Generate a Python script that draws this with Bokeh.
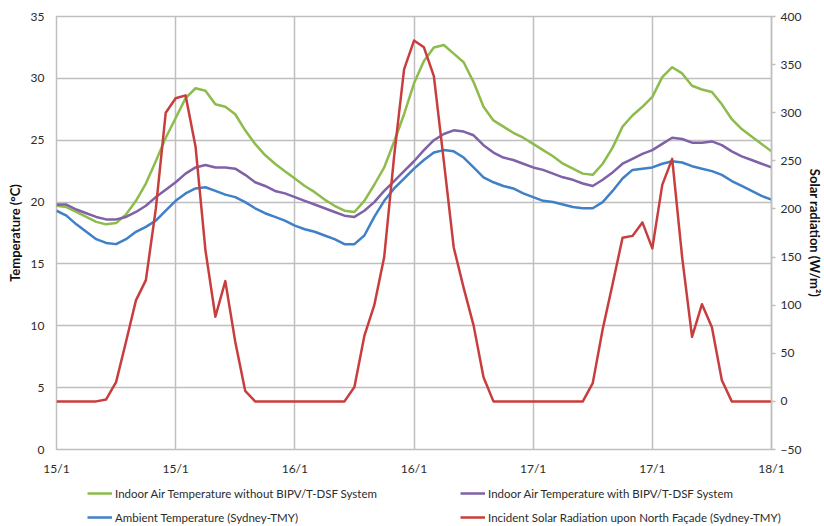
from bokeh.plotting import figure
from bokeh.layouts import column
from bokeh.models import Range1d, LinearAxis, FixedTicker, Legend, LegendItem
from bokeh.embed import file_html
from bokeh.resources import INLINE

# ---- data (hourly, 0..72 h from 15/1 00:00) ----
hours = list(range(73))
tick_hours = [0, 12, 24, 36, 48, 60, 72]
tick_labels = ["15/1", "15/1", "16/1", "16/1", "17/1", "17/1", "18/1"]
temp_ticks = [0, 5, 10, 15, 20, 25, 30, 35]
rad_ticks = [-50, 0, 50, 100, 150, 200, 250, 300, 350, 400]

indoor_without = [19.7, 19.6, 19.2, 18.8, 18.4, 18.2, 18.3, 19.0, 20.1, 21.5, 23.3, 25.2, 26.8,
                  28.4, 29.2, 29.0, 27.9, 27.7, 27.1, 25.8, 24.7, 23.8, 23.1, 22.5, 21.9,
                  21.3, 20.8, 20.2, 19.7, 19.3, 19.2, 20.1, 21.4, 22.8, 24.9, 27.1, 29.6,
                  31.4, 32.5, 32.7, 32.0, 31.3, 29.7, 27.7, 26.6, 26.1, 25.6, 25.2, 24.7,
                  24.2, 23.7, 23.1, 22.7, 22.3, 22.2, 23.1, 24.4, 26.1, 27.0, 27.7, 28.5,
                  30.1, 30.9, 30.4, 29.4, 29.1, 28.9, 27.9, 26.7, 25.9, 25.3, 24.7, 24.1]

indoor_with = [19.8, 19.8, 19.4, 19.1, 18.8, 18.6, 18.6, 18.8, 19.2, 19.7, 20.4, 21.0, 21.6,
               22.3, 22.8, 23.0, 22.8, 22.8, 22.7, 22.2, 21.6, 21.3, 20.9, 20.7, 20.4,
               20.1, 19.8, 19.5, 19.2, 18.9, 18.8, 19.3, 20.0, 20.9, 21.7, 22.5, 23.3,
               24.2, 25.0, 25.5, 25.8, 25.7, 25.4, 24.6, 24.0, 23.6, 23.4, 23.1, 22.8,
               22.6, 22.3, 22.0, 21.8, 21.5, 21.3, 21.8, 22.4, 23.1, 23.5, 23.9, 24.2,
               24.7, 25.2, 25.1, 24.8, 24.8, 24.9, 24.6, 24.1, 23.7, 23.4, 23.1, 22.8]

ambient = [19.3, 18.9, 18.2, 17.6, 17.0, 16.7, 16.6, 17.0, 17.6, 18.0, 18.5, 19.3, 20.1,
           20.7, 21.1, 21.2, 20.9, 20.6, 20.4, 20.0, 19.5, 19.1, 18.8, 18.5, 18.1,
           17.8, 17.6, 17.3, 17.0, 16.6, 16.6, 17.3, 18.8, 20.1, 21.1, 21.9, 22.7,
           23.4, 24.0, 24.2, 24.1, 23.6, 22.8, 22.0, 21.6, 21.3, 21.1, 20.7, 20.4,
           20.1, 20.0, 19.8, 19.6, 19.5, 19.5, 20.0, 20.9, 21.9, 22.6, 22.7, 22.8,
           23.1, 23.3, 23.2, 22.9, 22.7, 22.5, 22.2, 21.7, 21.3, 20.9, 20.5, 20.2]

solar = [0, 0, 0, 0, 0, 2, 20, 62, 105, 126, 200, 300, 315, 318, 265, 157, 88, 125, 62, 11, 0,
         0, 0, 0, 0, 0, 0, 0, 0, 0,
         15, 68, 100, 150, 255, 345, 375, 368, 338, 250, 160, 118, 79, 25, 0,
         0, 0, 0, 0, 0, 0, 0, 0, 0,
         19, 75, 122, 170, 172, 186, 159, 225, 252, 150, 67, 101, 77, 22, 0,
         0, 0, 0, 0]

names = ["Indoor Air Temperature without BIPV/T-DSF System",
         "Indoor Air Temperature with BIPV/T-DSF System",
         "Ambient Temperature (Sydney-TMY)",
         "Incident Solar Radiation upon North Façade (Sydney-TMY)"]
colors = ["#8DBB4C", "#7F61A8", "#3F80C6", "#C83E3E"]

FONT = "Lato"
GRID = "#BFBFBF"
TXT = "#2B2B2B"

p = figure(frame_width=715, frame_height=433, x_range=Range1d(0, 72), y_range=Range1d(0, 35),
           output_backend="svg", toolbar_location=None,
           min_border_left=56, min_border_right=53, min_border_top=16, min_border_bottom=26)
p.frame_align = False
p.outline_line_color = GRID
p.outline_line_width = 1.5
p.background_fill_color = "white"
p.border_fill_color = "white"

p.extra_y_ranges = {"rad": Range1d(-50, 400)}

# x axis
p.xaxis.ticker = FixedTicker(ticks=tick_hours)
p.xaxis.major_label_overrides = {h: l for h, l in zip(tick_hours, tick_labels)}
p.xaxis.major_tick_out = 0
p.xaxis.major_tick_in = 0
p.xaxis.major_tick_line_color = None
p.xaxis.minor_tick_line_color = None
p.xaxis.axis_line_color = None
p.xaxis.major_label_standoff = 11
p.xaxis.major_label_text_font = FONT
p.xaxis.major_label_text_font_size = "12px"
p.xaxis.major_label_text_color = TXT

# left axis
p.yaxis.ticker = FixedTicker(ticks=temp_ticks)
p.yaxis.major_tick_out = 0
p.yaxis.major_tick_in = 0
p.yaxis.major_tick_line_color = None
p.yaxis.minor_tick_line_color = None
p.yaxis.axis_line_color = None
p.yaxis.major_label_standoff = 12
p.yaxis.major_label_text_font = FONT
p.yaxis.major_label_text_font_size = "12px"
p.yaxis.major_label_text_color = TXT
p.yaxis.axis_label = "Temperature (°C)"
p.yaxis.axis_label_text_font = FONT
p.yaxis.axis_label_text_font_style = "bold"
p.yaxis.axis_label_text_font_size = "13px"
p.yaxis.axis_label_text_color = "#111111"
p.yaxis.axis_label_standoff = 5

# right axis
ra = LinearAxis(y_range_name="rad", ticker=FixedTicker(ticks=rad_ticks))
ra.axis_line_color = GRID
ra.axis_line_width = 1.5
ra.major_tick_line_color = GRID
ra.major_tick_line_width = 1.5
ra.major_tick_out = 4
ra.major_tick_in = 0
ra.minor_tick_line_color = None
ra.major_label_standoff = 5
ra.major_label_text_font = FONT
ra.major_label_text_font_size = "12px"
ra.major_label_text_color = TXT
ra.axis_label = "Solar radiation (W/m²)"
ra.axis_label_text_font = FONT
ra.axis_label_text_font_style = "bold"
ra.axis_label_text_font_size = "13px"
ra.axis_label_text_color = "#111111"
ra.axis_label_standoff = 3
p.add_layout(ra, "right")

# grids
p.xgrid.ticker = FixedTicker(ticks=tick_hours)
p.ygrid.ticker = FixedTicker(ticks=temp_ticks)
for g in (p.xgrid, p.ygrid):
    g.grid_line_color = GRID
    g.grid_line_width = 1.5

p.line(hours, indoor_without, line_color=colors[0], line_width=2.5, line_join="round")
p.line(hours, indoor_with, line_color=colors[1], line_width=2.5, line_join="round")
p.line(hours, ambient, line_color=colors[2], line_width=2.5, line_join="round")
p.line(hours, solar, line_color=colors[3], line_width=2.5, line_join="round", y_range_name="rad")

# ---- legend strip below the chart ----
lg = figure(frame_width=824, frame_height=48, x_range=Range1d(0, 1), y_range=Range1d(0, 1),
            output_backend="svg", toolbar_location=None, min_border=0)
lg.frame_align = False
lg.axis.visible = False
lg.grid.visible = False
lg.outline_line_color = None
dummies = [lg.line([-5, -4], [-5, -4], line_color=c, line_width=2.5) for c in colors]

common = dict(orientation="vertical", margin=0, padding=0, spacing=10,
              glyph_width=25, glyph_height=14, label_height=14, label_standoff=3,
              label_text_font=FONT, label_text_font_size="11.5px",
              label_text_color=TXT, border_line_color=None,
              background_fill_alpha=0)
leg1 = Legend(items=[LegendItem(label=names[0], renderers=[dummies[0]]),
                     LegendItem(label=names[2], renderers=[dummies[2]])],
              location=(87, 2), **common)
leg2 = Legend(items=[LegendItem(label=names[1], renderers=[dummies[1]]),
                     LegendItem(label=names[3], renderers=[dummies[3]])],
              location=(460, 2), **common)
lg.add_layout(leg1)
lg.add_layout(leg2)

open("out.html", "w").write(file_html(column(p, lg), INLINE))
